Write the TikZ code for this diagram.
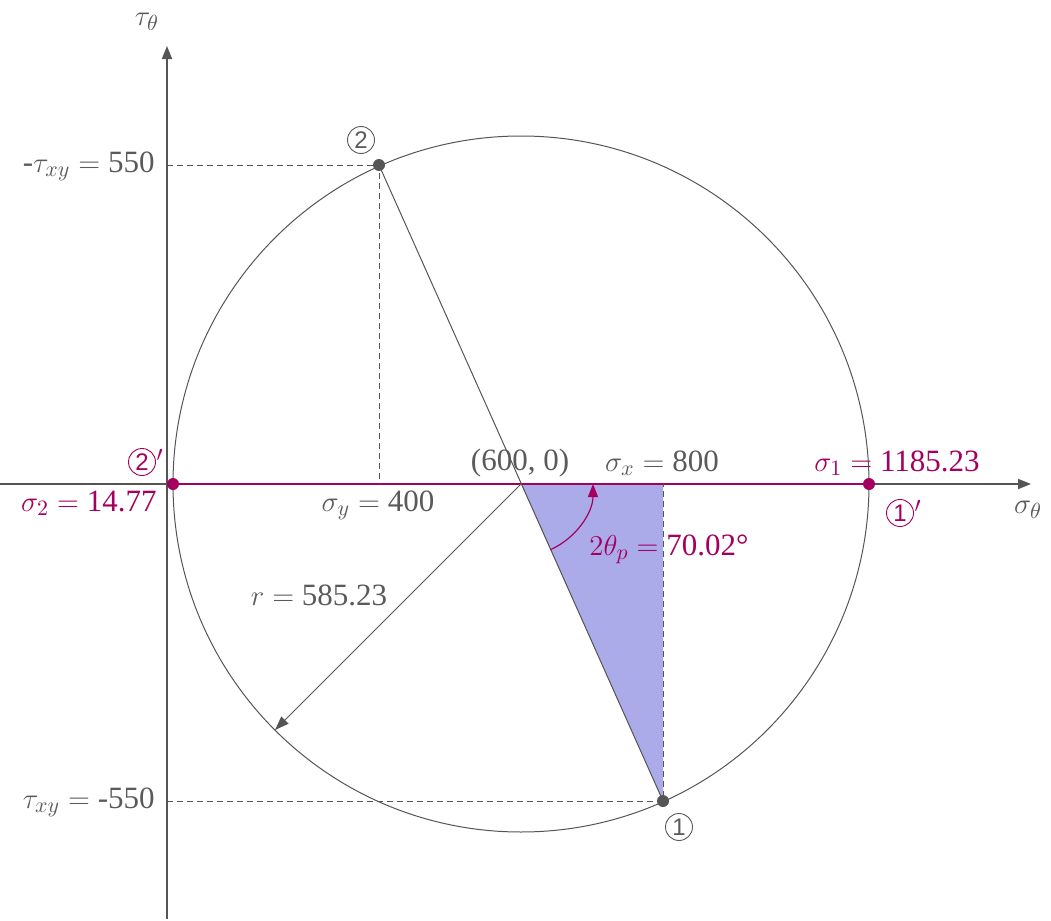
\documentclass[tikz,border=0pt]{standalone}
\usepackage{fontspec}
\setmainfont{Liberation Serif}
\newfontfamily\circfont{Liberation Sans}
\usepackage{tikz}
\usetikzlibrary{arrows.meta, positioning, calc}
\definecolor{axisgray}{HTML}{555555}
\definecolor{txtgray}{HTML}{5A5A5A}
\definecolor{mohrpink}{HTML}{A3005F}
\definecolor{wedgeblue}{HTML}{ABABE9}

\begin{document}
\begin{tikzpicture}[x=0.5pt, y=-0.5pt, font=\fontsize{15.5}{18}\selectfont,
    axis/.style={draw=axisgray, line width=0.9pt,
      -{Triangle[length=6.5pt, width=5pt]}},
    guide/.style={draw=axisgray, dashed, dash pattern=on 3pt off 2pt, line width=0.5pt},
    thin line/.style={draw=axisgray, line width=0.5pt},
    lbl/.style={text=txtgray, inner sep=0pt},
    plbl/.style={text=mohrpink, inner sep=0pt},
    dot/.style={circle, fill=#1, inner sep=0pt, minimum size=6pt},
    circnum/.style={circle, draw=#1, text=#1, line width=0.45pt, inner sep=0pt,
      minimum size=13.5pt, font=\circfont\fontsize{12}{12}\selectfont},
    prime/.style={text=mohrpink, inner sep=0pt, anchor=north west, xshift=2.2pt, yshift=1.5pt},
  ]
    \useasboundingbox (0,0) rectangle (1051,921);

    % axes
    \coordinate (origin) at (167,484);
    \coordinate (xend)   at (1031,484);
    \coordinate (xstart) at (0,484);
    \coordinate (ytop)   at (167,46);
    \coordinate (ybot)   at (167,919);
    \draw[axis] (ybot) -- (ytop);
    \draw[axis] (xstart) -- (xend);

    % circle and points
    \coordinate (C)  at (521,484);
    \coordinate (P1) at (663,801);
    \coordinate (P2) at (379,165);
    \coordinate (F1) at (663,484);
    \coordinate (F2) at (379,484);
    \coordinate (S1) at (869,484);
    \coordinate (S2) at (173,484);
    \coordinate (R)  at (275,730);

    \fill[wedgeblue] (C) -- (F1) -- (P1) -- cycle;
    \draw[thin line] (C) circle[radius=348];
    \draw[mohrpink, line width=0.6pt] (S2) -- (S1);

    \draw[guide] (origin |- P2) -- (P2) -- (F2);
    \draw[guide] (origin |- P1) -- (P1) -- (F1);
    \draw[thin line] (P2) -- (P1);
    \draw[thin line, -{Triangle[length=7pt, width=5pt]}] (C) -- (R);

    % angle
    \draw[mohrpink, line width=0.6pt, -{Triangle[length=6.5pt, width=5pt]}]
      ($(C)+(65.87:72)$) arc[start angle=65.87, end angle=0, radius=72];

    \node[dot=axisgray] (n1) at (P1) {};
    \node[dot=axisgray] (n2) at (P2) {};
    \node[dot=mohrpink] (m1) at (S1) {};
    \node[dot=mohrpink] (m2) at (S2) {};

    % labels
    \node[lbl] (tau)  at (147,22)  {$\tau_\theta$};
    \node[lbl] (sig)  at (1028,510) {$\sigma_\theta$};
    \node[lbl, anchor=east] (tn) at (155,166) {-$\tau_{xy} =$ 550};
    \node[lbl, anchor=east] (tp) at (155,802) {$\tau_{xy} =$ -550};
    \node[lbl] (sy)   at (378,505) {$\sigma_y =$ 400};
    \node[lbl] (ctr)  at (520,463) {(600, 0)};
    \node[lbl] (sx)   at (662,463) {$\sigma_x =$ 800};
    \node[lbl] (rad)  at (319,595) {$r =$ 585.23};
    \node[circnum=txtgray] (c2) at (361,140) {2};
    \node[circnum=txtgray] (c1) at (679,827) {1};
    \node[plbl] (s1)  at (897,463) {$\sigma_1 =$ 1185.23};
    \node[plbl, anchor=east] (s2) at (157,503) {$\sigma_2 =$ 14.77};
    \node[circnum=mohrpink] (c2p) at (142,462) {2};
    \node[prime] (c2q) at (c2p.north east) {$'$};
    \node[circnum=mohrpink] (c1p) at (900,513) {1};
    \node[prime] (c1q) at (c1p.north east) {$'$};
    \node[plbl, anchor=west] (ang) at (589,549) {$2\theta_p =$ 70.02°};
\end{tikzpicture}
\end{document}
